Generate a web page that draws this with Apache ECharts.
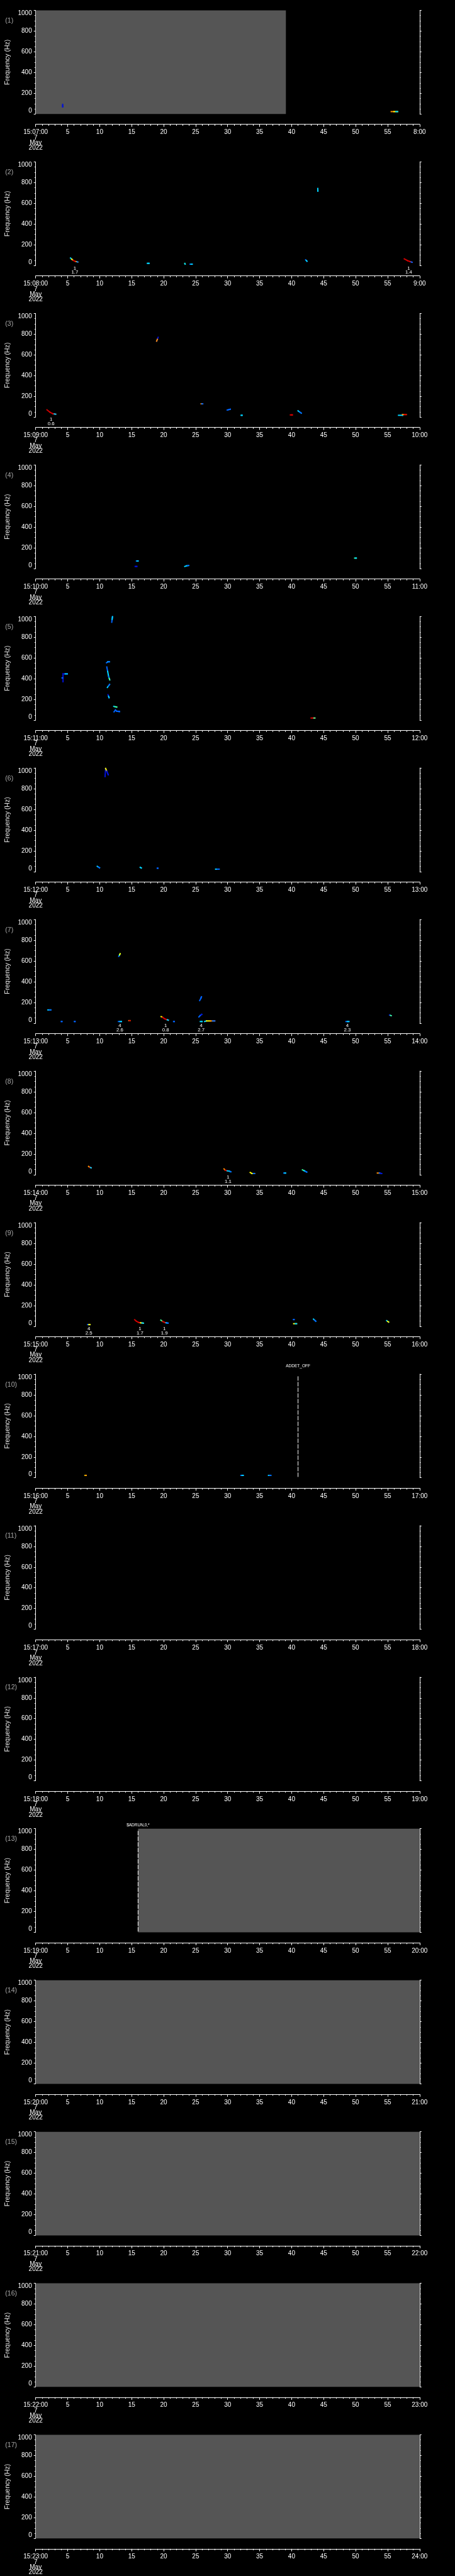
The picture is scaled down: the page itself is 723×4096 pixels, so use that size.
<!DOCTYPE html>
<html><head><meta charset="utf-8">
<script src="https://cdn.jsdelivr.net/npm/echarts@6/dist/echarts.min.js"></script>
<style>html,body{margin:0;padding:0;background:#000;}#c{width:723px;height:4096px;}</style>
</head><body><div id="c"></div>
<script>
// ---------- data ----------
const startMinutes = ['07','08','09','10','11','12','13','14','15','16','17','18','19','20','21','22','23'];
const endLabels = ['8:00','9:00','10:00','11:00','12:00','13:00','14:00','15:00','16:00','17:00','18:00','19:00','20:00','21:00','22:00','23:00','24:00'];
const dateLines = ['7','May','2022'];
const freqMin = 0, freqMax = 1000, freqStep = 200;
const timeMin = 0, timeMax = 60, timeStep = 5;
const palette = {b:'#0010d8', B:'#0064ff', c:'#00d4ff', g:'#40ff90', y:'#ffff00', o:'#ff9000', r:'#d40000'};

// [panel, start s, end s]
const grayBands = [[1,0,39.1],[13,16,60],[14,0,60],[15,0,60],[16,0,60],[17,0,60]];
// [panel, time s, text, label row]
const eventLines = [[10,41,'ADDET_OFF',1],[13,16,'$ADRUN,0,*',0]];
// [panel, time s, line1, line2]
const annotations = [
  [2,6.12,'1','1.7'],[2,58.3,'1','1.4'],[3,2.41,'1','0.6'],
  [7,13.16,'4','2.6'],[7,20.3,'1','0.8'],[7,25.85,'4','2.7'],[7,48.7,'4','2.3'],
  [8,30.07,'1','1.1'],[9,8.3,'4','2.5'],[9,16.3,'1','1.7'],[9,20.1,'1','1.9']
];

// traces: lists of [time s, frequency Hz, colour key]
const panel1Traces = [
  [[4.22,93,'b'],[4.22,69,'b']],
  [[55.56,23,'o'],[56.0,23,'y'],[56.56,23,'c']]
];
const panel2Traces = [
  [[5.44,72.5,'c'],[5.63,61,'y'],[5.85,50,'r'],[6.12,41,'r'],[6.35,38,'y'],[6.58,34,'B']],
  [[17.45,21,'c'],[17.7,21,'c']],
  [[23.3,21,'g'],[23.35,14,'c']],
  [[24.13,13,'B'],[24.45,13,'c']],
  [[42.18,55,'B'],[42.4,41,'c']],
  [[44.08,744,'c'],[44.1,718,'c']],
  [[57.6,64,'r'],[58.15,45.5,'r'],[58.5,38.4,'r'],[58.83,31.3,'B']]
];
const panel3Traces = [
  [[1.77,69.4,'r'],[2.22,47,'r'],[2.68,32,'r'],[3.13,28,'c']],
  [[19.14,769,'b'],[18.9,732,'o']],
  [[25.85,127.6,'o'],[26.1,127.6,'B']],
  [[29.93,67.5,'B'],[30.4,75,'B']],
  [[32.1,17,'c'],[32.25,17,'c']],
  [[39.8,20.6,'r'],[40.1,20.6,'r']],
  [[41.0,60,'c'],[41.5,37.5,'B']],
  [[56.7,17,'c'],[57.33,17,'c'],[57.33,24,'o'],[57.9,24,'r']]
];
const panel4Traces = [
  [[15.74,73,'B'],[16.0,73,'c']],
  [[15.55,20.6,'b'],[15.8,20.6,'b']],
  [[23.3,20,'c'],[23.55,26,'c'],[23.9,30,'B']],
  [[49.85,101,'g'],[50.1,101,'c']]
];
const panel5Traces = [
  [[4.27,370,'b'],[4.27,446,'b'],[4.94,446,'c']],
  [[4.12,407,'B'],[4.2,407,'B']],
  [[11.89,945,'B'],[12.0,997,'c']],
  [[11.07,553,'B'],[11.3,563,'c'],[11.52,563,'B']],
  [[11.11,513,'B'],[11.25,470,'c'],[11.4,420,'B'],[11.57,388,'g']],
  [[11.2,315,'c'],[11.55,344,'B']],
  [[11.3,245,'b'],[11.47,216,'c']],
  [[12.2,132,'c'],[12.66,126,'g']],
  [[12.24,80,'B'],[12.46,97,'B'],[12.65,86,'B'],[13.1,83,'B']],
  [[43.04,20,'r'],[43.35,20,'r'],[43.63,20,'g']]
];
const panel6Traces = [
  [[10.84,917,'b'],[10.93,996,'y'],[11.11,970,'b'],[11.34,934,'b']],
  [[9.62,51.5,'c'],[9.98,37,'B']],
  [[16.33,41,'c'],[16.5,35,'c']],
  [[19.0,33,'B'],[19.1,33,'B']],
  [[28.12,24,'c'],[28.66,24,'B']]
];
const panel7Traces = [
  [[1.91,127.7,'c'],[2.36,127.7,'B']],
  [[4.0,15.8,'B'],[4.1,15.8,'B']],
  [[6.05,15.8,'B'],[6.15,15.8,'B']],
  [[12.93,15.8,'B'],[13.4,15.8,'c']],
  [[12.98,644,'B'],[13.08,655.7,'g'],[13.2,670,'y']],
  [[14.56,24.4,'o'],[14.75,24.4,'r']],
  [[19.6,63,'y'],[19.82,57,'r'],[20.14,43,'r'],[20.41,36,'r'],[20.73,28.7,'c']],
  [[21.55,15.8,'B'],[21.65,15.8,'B']],
  [[25.63,218,'B'],[25.81,240,'B'],[25.9,254,'B']],
  [[25.5,60,'B'],[25.72,74.6,'B'],[25.95,84.6,'b']],
  [[25.72,15.8,'c'],[26.0,15.8,'c']],
  [[26.4,15.8,'c'],[26.7,21.5,'y'],[27.3,21.5,'o'],[27.98,21.5,'B']],
  [[48.49,15.8,'B'],[48.94,15.8,'c']],
  [[55.29,79,'b'],[55.56,72,'g']]
];
const panel8Traces = [
  [[8.26,80,'o'],[8.47,71.6,'r'],[8.67,66,'c']],
  [[29.43,56,'o'],[29.61,44.4,'r'],[29.93,37,'c'],[30.25,34,'c'],[30.48,28.6,'B']],
  [[33.52,21.5,'y'],[33.8,11.5,'y'],[34.2,11.5,'B']],
  [[38.78,15.8,'B'],[39.05,15.8,'c']],
  [[41.68,47,'g'],[41.95,38.7,'c'],[42.36,25.8,'B']],
  [[53.39,15.8,'o'],[53.7,15.8,'B'],[54.06,11.5,'b']]
];
const panel9Traces = [
  [[8.12,15.7,'B'],[8.49,15.7,'y']],
  [[15.47,63,'r'],[15.74,48.6,'r'],[16.06,37,'r'],[16.38,33,'y'],[16.84,30,'c']],
  [[19.55,58.7,'g'],[19.82,47,'r'],[20.14,37,'r'],[20.37,33,'c'],[20.69,30,'B']],
  [[40.28,64.4,'B'],[40.38,64.4,'B']],
  [[40.32,24.3,'y'],[40.77,24.3,'c']],
  [[43.41,68.7,'c'],[43.77,48.6,'B']],
  [[54.84,54,'c'],[55.16,40,'y']]
];
const panel10Traces = [
  [[7.72,22.9,'y'],[7.88,22.9,'o']],
  [[32.07,22.9,'B'],[32.43,22.9,'c']],
  [[36.38,22.9,'c'],[36.74,22.9,'B']]
];
const tracesByPanel = {1:panel1Traces,2:panel2Traces,3:panel3Traces,4:panel4Traces,5:panel5Traces,
  6:panel6Traces,7:panel7Traces,8:panel8Traces,9:panel9Traces,10:panel10Traces};

// ---------- layout ----------
const s = 723/1024;
const PH = 4096/17;
const FF = "'Liberation Sans', Arial, Helvetica, sans-serif";
const G = {left:80.3*s, top:23.3*s, h:233.4*s, w:(944.4-80.3)*s};
const grids=[], xAxes=[], yAxes=[], series=[], graphics=[];

for (let k=0;k<17;k++){
  const panel = k+1;
  const top = k*PH + G.top;
  grids.push({left:G.left, top:top, width:G.w, height:G.h, containLabel:false, outerBoundsMode:'none'});
  xAxes.push({
    gridIndex:k, type:'value', min:timeMin, max:timeMax, interval:timeStep, position:'bottom',
    offset:(280-256.7)*s,
    axisLine:{show:true, onZero:false, lineStyle:{color:'#fff', width:1}},
    axisTick:{show:true, length:4, lineStyle:{color:'#fff', width:1}},
    minorTick:{show:true, splitNumber:5, length:2.3, lineStyle:{color:'#fff', width:1}},
    splitLine:{show:false}, minorSplitLine:{show:false},
    axisLabel:{color:'#fff', fontSize:10, fontFamily:FF, lineHeight:8.3, margin:8.7,
      showMinLabel:true, showMaxLabel:true, hideOverlap:false,
      formatter:(v)=>{
        if (v===timeMin) return '15:'+startMinutes[k]+':00\n'+dateLines.join('\n');
        if (v===timeMax) return endLabels[k];
        return String(v);
      }}
  });
  const yCommon = {
    gridIndex:k, type:'value', min:freqMin, max:freqMax, interval:freqStep,
    axisLine:{show:true, onZero:false, lineStyle:{color:'#fff', width:1}},
    axisTick:{show:true, length:3, lineStyle:{color:'#fff', width:1}},
    minorTick:{show:true, splitNumber:4, length:1.8, lineStyle:{color:'#fff', width:1}},
    splitLine:{show:false}, minorSplitLine:{show:false}
  };
  yAxes.push(Object.assign({}, yCommon, {
    position:'left',
    name:'Frequency (Hz)', nameLocation:'middle', nameGap:35, nameRotate:90,
    nameTextStyle:{color:'#e8e8e8', fontSize:10.5, fontFamily:FF},
    axisLabel:{color:'#fff', fontSize:10, fontFamily:FF, margin:6,
      formatter:(v)=>String(v),
      verticalAlignMinLabel:'bottom', verticalAlignMaxLabel:'top'}
  }));
  yAxes.push(Object.assign({}, yCommon, {position:'right', axisLabel:{show:false}}));

  // panel number
  graphics.push({type:'text', left:8.3, top:k*PH + 47.7*s - 6,
    style:{text:'('+panel+')', fill:'#a8a8a8', font:'10.5px '+FF}});

  // gray bands
  const bands = grayBands.filter(b=>b[0]===panel).map(b=>[b[1],b[2]]);
  if (bands.length){
    series.push({type:'custom', xAxisIndex:k, yAxisIndex:2*k, z:1, silent:true,
      data:bands, encode:{x:[0,1]},
      renderItem:(p,api)=>{
        const a=api.coord([api.value(0),freqMax]), b=api.coord([api.value(1),freqMin]);
        return {type:'rect', shape:{x:a[0],y:a[1],width:b[0]-a[0],height:b[1]-a[1]}, style:{fill:'#555555'}};
      }});
  }
  // traces
  const tr = tracesByPanel[panel] || [];
  const segs = [];
  tr.forEach(t=>{
    for (let i=0;i<t.length-1;i++){
      segs.push({value:[t[i][0],t[i][1],t[i+1][0],t[i+1][1]], itemStyle:{color:palette[t[i][2]]}});
    }
    const L=t[t.length-1], P=t[t.length-2];
    segs.push({value:[P[0]+(L[0]-P[0])*0.5,P[1]+(L[1]-P[1])*0.5,L[0],L[1]], itemStyle:{color:palette[L[2]]}});
  });
  if (segs.length){
    series.push({type:'custom', xAxisIndex:k, yAxisIndex:2*k, z:3, silent:true,
      data:segs, encode:{x:[0,2], y:[1,3]},
      renderItem:(p,api)=>{
        const a=api.coord([api.value(0),api.value(1)]), b=api.coord([api.value(2),api.value(3)]);
        return {type:'line', shape:{x1:a[0],y1:a[1],x2:b[0],y2:b[1]}, style:{stroke:api.visual('color'), lineWidth:2, lineCap:'square'}};
      }});
  }
  // annotations below plot
  const ann = annotations.filter(a=>a[0]===panel);
  if (ann.length){
    series.push({type:'custom', xAxisIndex:k, yAxisIndex:2*k, z:4, silent:true,
      data:ann.map(a=>[a[1],freqMin]), encode:{x:0,y:1},
      renderItem:(p,api)=>{
        const a=ann[p.dataIndex];
        const pt=api.coord([api.value(0),freqMin]);
        return {type:'text', x:pt[0], y:pt[1]+0.9,
          style:{text:a[2]+'\n'+a[3], fill:'#fff', fontSize:7.8, fontFamily:FF, lineHeight:6.6, align:'center', verticalAlign:'top'}};
      }});
  }
  // event lines
  const ev = eventLines.filter(e=>e[0]===panel);
  if (ev.length){
    series.push({type:'custom', xAxisIndex:k, yAxisIndex:2*k, z:5, silent:true,
      data:ev.map(e=>[e[1]]), encode:{x:0},
      renderItem:(p,api)=>{
        const e=ev[p.dataIndex];
        const t=api.coord([api.value(0),freqMax]), b=api.coord([api.value(0),freqMin]);
        return {type:'group', children:[
          {type:'line', shape:{x1:t[0],y1:t[1]+3.5,x2:b[0],y2:b[1]}, style:{stroke:'#fff', lineWidth:1, lineDash:[7,2]}},
          {type:'text', x:t[0], y:t[1]-(5.9+e[3]*6.5),
            style:{text:e[2], fill:'#fff', fontSize:6.5, fontFamily:FF, align:'center', verticalAlign:'middle'}}
        ]};
      }});
  }
}

const chart = echarts.init(document.getElementById('c'), null, {renderer:'canvas'});
chart.setOption({
  backgroundColor:'#000',
  animation:false,
  grid:grids, xAxis:xAxes, yAxis:yAxes, series:series, graphic:graphics
});
</script>
</body></html>
